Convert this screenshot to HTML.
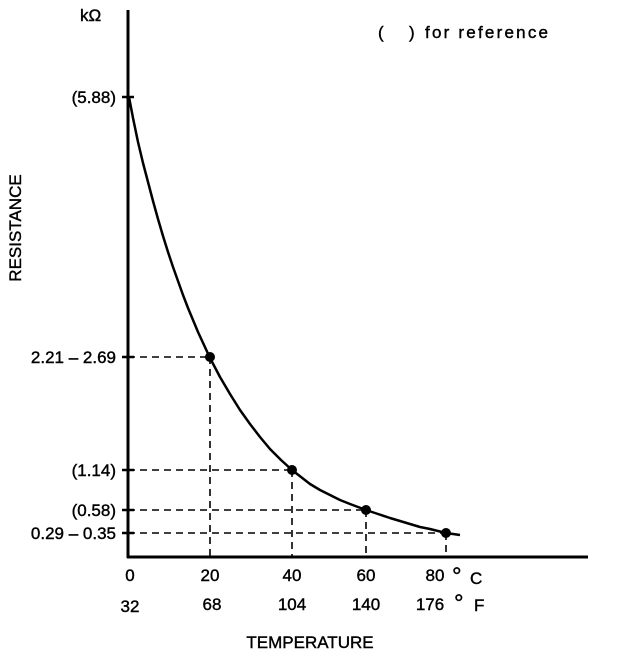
<!DOCTYPE html>
<html><head><style>
body{margin:0;background:#fff;}
svg text{font-family:"Liberation Sans",Arial,sans-serif;fill:#000;stroke:#000;stroke-width:0.4;}
</style></head><body>
<svg width="624" height="662" viewBox="0 0 624 662">
<g stroke="#000" fill="none">
<line x1="128" y1="10" x2="128" y2="558" stroke-width="3"/>
<line x1="127" y1="557" x2="588" y2="557" stroke-width="3"/>
<polyline stroke-width="2.5" stroke-linejoin="round" points="129,97 133,118 138,142 143,163 148,182 153,201 158,219 163,236 168,252 173,267 178,281 183,295 188,308 193,320 198,332 204,345 210,358 220,377 230,394 240,410 250,424 260,437 270,449 281,460 292,470 301,477 310,484 320,490 330,495 340,500 350,504 358,507 366,510 378,514 390,518 400,521 410,524 420,527 430,529 438,531 446,533 460,535"/>
<g stroke-width="1.6" stroke-dasharray="7,5">
<line x1="128" y1="357" x2="210" y2="357"/>
<line x1="128" y1="470" x2="292" y2="470"/>
<line x1="128" y1="510" x2="366" y2="510"/>
<line x1="128" y1="533" x2="446" y2="533"/>
<line x1="210" y1="357" x2="210" y2="557"/>
<line x1="292" y1="470" x2="292" y2="557"/>
<line x1="366" y1="510" x2="366" y2="557"/>
<line x1="446" y1="533" x2="446" y2="557"/>
</g>
<g stroke-width="2.5">
<line x1="122" y1="97" x2="134" y2="97"/>
<line x1="122" y1="357" x2="134" y2="357"/>
<line x1="122" y1="470" x2="134" y2="470"/>
<line x1="122" y1="510" x2="134" y2="510"/>
<line x1="122" y1="533" x2="134" y2="533"/>
</g>
</g>
<g fill="#000">
<circle cx="210" cy="357" r="5"/><circle cx="292" cy="470" r="5"/><circle cx="366" cy="510" r="5"/><circle cx="446" cy="533" r="5"/>
</g>
<g font-size="17">
<text x="80" y="21">kΩ</text>
<text x="116" y="103" text-anchor="end">(5.88)</text>
<text x="116" y="363" text-anchor="end">2.21 – 2.69</text>
<text x="116" y="476" text-anchor="end">(1.14)</text>
<text x="116" y="516" text-anchor="end">(0.58)</text>
<text x="116" y="539" text-anchor="end">0.29 – 0.35</text>
<text x="378" y="38">(</text><text x="409" y="38">)</text><text x="425" y="38" textLength="123">for reference</text>
<text x="130" y="581" text-anchor="middle">0</text>
<text x="210" y="581" text-anchor="middle">20</text>
<text x="292" y="581" text-anchor="middle">40</text>
<text x="366" y="581" text-anchor="middle">60</text>
<text x="435" y="581" text-anchor="middle">80</text>
<text x="452" y="584" font-size="24">°</text><text x="470" y="584">C</text>
<text x="130" y="612" text-anchor="middle">32</text>
<text x="212" y="610" text-anchor="middle">68</text>
<text x="292" y="610" text-anchor="middle">104</text>
<text x="366" y="610" text-anchor="middle">140</text>
<text x="430" y="610" text-anchor="middle">176</text>
<text x="454" y="611" font-size="24">°</text><text x="474" y="611">F</text>
<text x="310" y="648" text-anchor="middle">TEMPERATURE</text>
<text transform="translate(21,228) rotate(-90)" text-anchor="middle">RESISTANCE</text>
</g>
</svg>
</body></html>
